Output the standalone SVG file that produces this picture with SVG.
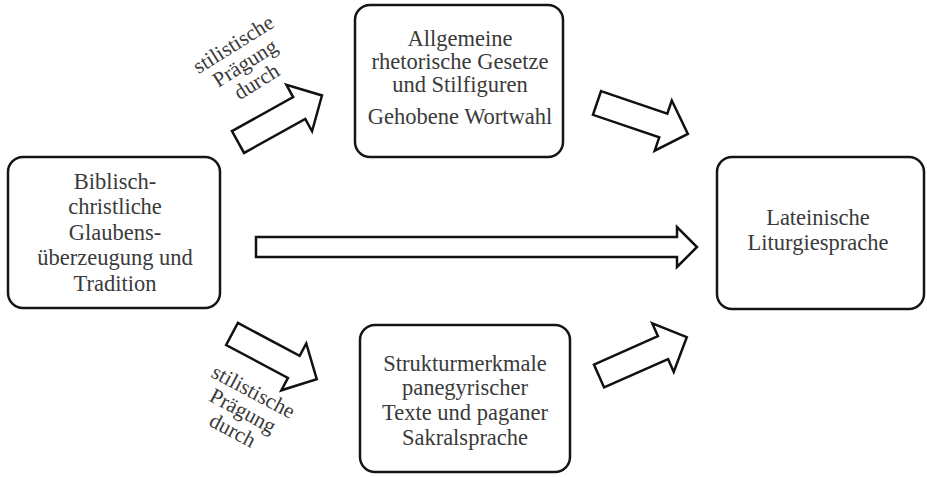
<svg xmlns="http://www.w3.org/2000/svg" width="927" height="477" viewBox="0 0 927 477">
<style>
.box{fill:#fff;stroke:#151515;stroke-width:2.5}
.arr{fill:#fff;stroke:#111;stroke-width:2.5;stroke-linejoin:miter}
.t{font-family:'Liberation Serif','Times New Roman',serif;font-size:22.5px;fill:#3a3a3a;text-anchor:middle}
.s{font-size:21.5px}
</style>
<defs>
<path id="da" d="M0,-12.5 L70,-12.5 L70,-26.5 L96,0 L70,26.5 L70,12.5 L0,12.5 Z"/>
</defs>
<rect width="927" height="477" fill="#fff"/>
<g id="connectors">
<use href="#da" class="arr" transform="translate(238,142) rotate(-29)"/>
<use href="#da" class="arr" transform="translate(232,334) rotate(28)"/>
<use href="#da" class="arr" transform="translate(597,103) rotate(18.8)"/>
<use href="#da" class="arr" transform="translate(599,376) rotate(-23.9)"/>
<path class="arr" d="M256,237 L677,237 L677,227 L697,247 L677,267 L677,257 L256,257 Z"/>
<g transform="translate(245,63) rotate(-32)">
<text class="t s" x="0" y="-15">stilistische</text>
<text class="t s" x="0" y="7">Prägung</text>
<text class="t s" x="0" y="29">durch</text>
</g>
<g transform="translate(243,411) rotate(28)">
<text class="t s" x="0" y="-15">stilistische</text>
<text class="t s" x="0" y="7">Prägung</text>
<text class="t s" x="0" y="29">durch</text>
</g>
</g>
<g id="source">
<rect class="box" x="8" y="157" width="212" height="151" rx="15"/>
<text class="t" x="115" y="189">Biblisch-</text>
<text class="t" x="115" y="214">christliche</text>
<text class="t" x="115" y="240">Glaubens-</text>
<text class="t" x="115" y="265">überzeugung und</text>
<text class="t" x="115" y="291">Tradition</text>
</g>
<g id="rhetoric">
<rect class="box" x="355" y="5" width="208" height="152" rx="15"/>
<text class="t" x="460" y="46">Allgemeine</text>
<text class="t" x="460" y="69">rhetorische Gesetze</text>
<text class="t" x="460" y="92">und Stilfiguren</text>
<text class="t" x="460" y="124">Gehobene Wortwahl</text>
</g>
<g id="panegyric">
<rect class="box" x="360" y="325" width="210" height="147" rx="15"/>
<text class="t" x="465" y="371">Strukturmerkmale</text>
<text class="t" x="465" y="395">panegyrischer</text>
<text class="t" x="465" y="420">Texte und paganer</text>
<text class="t" x="465" y="445">Sakralsprache</text>
</g>
<g id="liturgy">
<rect class="box" x="717" y="157" width="207" height="152" rx="15"/>
<text class="t" x="818" y="225">Lateinische</text>
<text class="t" x="818" y="250">Liturgiesprache</text>
</g>
</svg>
